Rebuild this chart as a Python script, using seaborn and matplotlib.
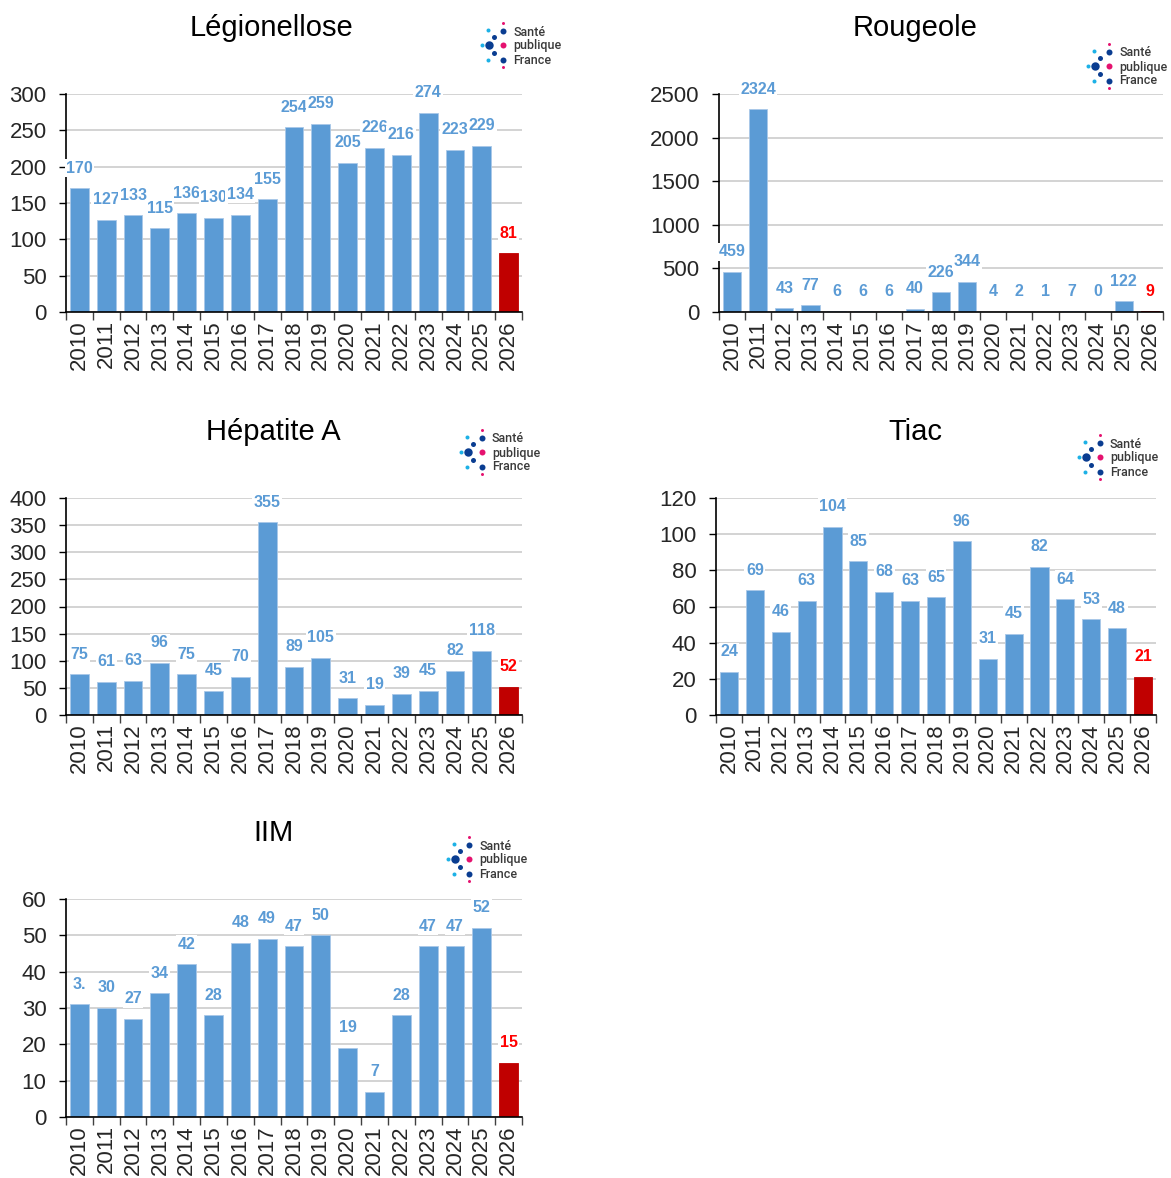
import matplotlib
matplotlib.use("Agg")
import matplotlib.pyplot as plt
import seaborn as sns
import pandas as pd
import numpy as np

sns.set_theme(style="white")
plt.rcParams['font.family'] = ['Liberation Sans', 'DejaVu Sans']

years = [str(y) for y in range(2010, 2027)]

legionellose = [170, 127, 133, 115, 136, 130, 134, 155, 254, 259, 205, 226, 216, 274, 223, 229, 81]
rougeole = [459, 2324, 43, 77, 6, 6, 6, 40, 226, 344, 4, 2, 1, 7, 0, 122, 9]
hepatite_a = [75, 61, 63, 96, 75, 45, 70, 355, 89, 105, 31, 19, 39, 45, 82, 118, 52]
tiac = [24, 69, 46, 63, 104, 85, 68, 63, 65, 96, 31, 45, 82, 64, 53, 48, 21]
iim = [31, 30, 27, 34, 42, 28, 48, 49, 47, 50, 19, 7, 28, 47, 47, 52, 15]
iim_labels = ["3."] + [str(v) for v in iim[1:]]

titles = ["Légionellose", "Rougeole", "Hépatite A", "Tiac", "IIM"]

BLUE = "#5B9BD5"
RED = "#C00000"
LABEL_BLUE = "#5B9BD5"
LABEL_RED = "#FF0000"

W, H = 1171, 1178
fig = plt.figure(figsize=(W / 100, H / 100), dpi=100)

# axes boxes in pixels: left, right, top, bottom
boxes = [
    (66, 522, 94, 312),
    (719, 1163, 94, 312),
    (66, 522, 498, 715),
    (716, 1156, 498, 715),
    (66, 522, 899, 1117),
]
yticks = [
    np.arange(0, 301, 50),
    np.arange(0, 2501, 500),
    np.arange(0, 401, 50),
    np.arange(0, 121, 20),
    np.arange(0, 61, 10),
]
datasets = [legionellose, rougeole, hepatite_a, tiac, iim]
labelsets = [None, None, None, None, iim_labels]

for box, data, labs, yt in zip(boxes, datasets, labelsets, yticks):
    l, r, t, b = box
    ax = fig.add_axes([l / W, 1 - b / H, (r - l) / W, (b - t) / H])
    df = pd.DataFrame({"year": years, "value": data,
                       "kind": ["cur" if i == len(years) - 1 else "past" for i in range(len(years))]})
    sns.barplot(data=df, x="year", y="value", hue="kind",
                palette={"past": BLUE, "cur": RED}, width=0.7, legend=False,
                ax=ax, saturation=1, edgecolor="#A9C8E8", linewidth=0.6)
    if len(ax.patches):
        ax.patches[-1].set_edgecolor(RED)
    ax.set_xlim(-0.5, len(years) - 0.5)
    ax.set_ylim(yt[0], yt[-1])
    ax.set_yticks(yt)
    ax.set_xlabel("")
    ax.set_ylabel("")
    ax.grid(axis="y", color="#D0D0D0", linewidth=1.3)
    ax.set_axisbelow(True)
    for s in ["top", "right"]:
        ax.spines[s].set_visible(False)
    for s in ["left", "bottom"]:
        ax.spines[s].set_color("black")
        ax.spines[s].set_linewidth(1.2)
    ax.tick_params(axis="y", which="major", direction="out", length=5, width=1.0,
                   color="black", labelsize=16, pad=9, left=True)
    ax.set_xticks(range(len(years)))
    ax.set_xticklabels(years, rotation=90, fontsize=16)
    ax.tick_params(axis="x", which="major", length=0, pad=6)
    ax.set_xticks(np.arange(-0.5, len(years), 1.0), minor=True)
    ax.tick_params(axis="x", which="minor", direction="out", length=6, width=1.0,
                   color="#404040", bottom=True)
    for i, v in enumerate(data):
        last = i == len(data) - 1
        txt = labs[i] if labs is not None else str(v)
        ax.annotate(txt, (i, v), xytext=(0, 14.5), textcoords="offset points",
                    ha="center", va="center", fontsize=11.5, fontweight="bold",
                    color=LABEL_RED if last else LABEL_BLUE, clip_on=False,
                    bbox=dict(facecolor="white", edgecolor="none", pad=1.0))

# overlay for titles and logos (pixel coordinates)
ov = fig.add_axes([0, 0, 1, 1], zorder=10)
ov.set_xlim(0, W)
ov.set_ylim(H, 0)
ov.axis("off")
ov.patch.set_alpha(0)

title_pos = [(272, 28), (915, 28), (273, 432), (915, 432), (273, 833)]
for (x, y), ttl in zip(title_pos, titles):
    ov.text(x, y, ttl, ha="center", va="center", fontsize=21, color="black")

CYAN = "#1CB1E6"
DARK = "#0A3D91"
PINK = "#E5126F"
dots = [
    (0, -22, 1.5, PINK), (-15, -15, 2.0, CYAN), (0, -14, 3.0, DARK),
    (-9, -8, 2.5, DARK), (-21, 0, 2.0, CYAN), (-14, 0, 4.2, DARK),
    (0, 0, 3.0, PINK), (-9, 8, 2.5, DARK), (-15, 15, 2.0, CYAN),
    (0, 15, 3.0, DARK), (0, 22, 1.5, PINK),
]
logo_pos = [(503, 45), (1109, 66), (482, 452), (1100, 457), (469, 859)]
for cx, cy in logo_pos:
    for dx, dy, rr, c in dots:
        ov.scatter(cx + dx, cy + dy, s=(2 * rr * 0.72) ** 2, color=c, linewidths=0)
    for k, word in enumerate(["Santé", "publique", "France"]):
        ov.text(cx + 10, cy - 13 + 14 * k, word, ha="left", va="center",
                fontsize=9, color="#3A3A3A", fontweight="medium",
                family=["Roboto", "DejaVu Sans"])

fig.savefig("out.png", dpi=100)
